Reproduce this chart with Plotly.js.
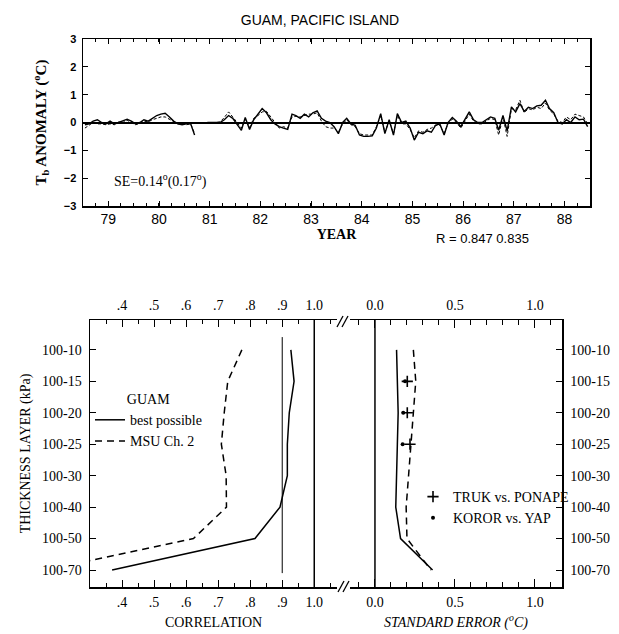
<!DOCTYPE html>
<html><head><meta charset="utf-8">
<script src="https://cdn.plot.ly/plotly-3.0.1.min.js"></script>
<style>html,body{margin:0;padding:0;background:#fff}</style>
</head><body>
<div id="chart" style="width:619px;height:634px"></div>
<script>
// ---------- data: top panel (monthly Tb anomaly, Guam, 1979-1988) ----------
const years = [1979,1980,1981,1982,1983,1984,1985,1986,1987,1988];
const yearLabels = ['79','80','81','82','83','84','85','86','87','88'];
const anomalySolid = [
 -0.08,-0.05,0.05,0.10,0.00,-0.05,0.05,-0.05,0.00,0.05,0.12,0.05,
 -0.05,0.00,0.10,0.05,0.15,0.25,0.30,0.33,0.20,0.05,-0.05,-0.08,
 -0.05,-0.05,-0.45,null,null,0.00,0.00,-0.02,0.00,0.10,0.25,0.15,
 -0.05,-0.28,0.18,-0.25,0.10,0.30,0.50,0.35,0.10,-0.05,-0.15,-0.20,
 -0.25,0.30,0.25,0.15,0.30,0.20,0.35,0.42,0.15,0.05,0.00,-0.15,
 -0.40,0.00,0.15,-0.05,-0.10,-0.45,-0.50,-0.50,-0.48,-0.20,0.32,-0.40,
 0.10,-0.45,0.32,0.00,0.05,-0.20,-0.63,-0.35,-0.40,-0.30,-0.35,-0.10,
 -0.05,-0.45,0.00,0.18,0.05,-0.15,0.10,0.38,0.10,0.00,0.00,0.10,
 0.20,0.15,-0.28,0.25,-0.30,0.56,0.38,0.68,0.40,0.55,0.50,0.60,
 0.62,0.80,0.50,0.35,0.00,-0.05,0.10,0.00,0.20,0.10,0.12,-0.15];
const anomalyDashed = [
 -0.20,-0.10,0.00,-0.05,-0.05,-0.08,-0.05,-0.08,0.02,0.00,0.08,0.00,
 -0.08,-0.03,0.05,0.02,0.10,0.15,0.20,0.20,0.12,0.02,-0.05,-0.05,
 -0.08,-0.05,-0.40,null,null,0.00,-0.02,0.00,0.02,0.18,0.38,0.20,
 0.00,-0.20,0.12,-0.18,0.15,0.25,0.38,0.40,0.20,0.00,-0.20,-0.15,
 -0.20,0.20,0.22,0.20,0.25,0.30,0.30,0.35,0.05,-0.15,-0.20,-0.20,
 -0.35,-0.05,0.10,-0.08,-0.15,-0.40,-0.45,-0.45,-0.45,-0.15,0.25,-0.35,
 0.05,-0.40,0.25,-0.05,-0.05,-0.25,-0.55,-0.30,-0.35,-0.25,-0.20,-0.10,
 -0.10,-0.40,-0.05,0.12,0.00,-0.20,0.05,0.30,0.05,-0.05,-0.05,0.05,
 0.15,0.10,-0.45,0.20,-0.50,0.50,0.45,0.80,0.35,0.50,0.45,0.55,
 0.50,0.70,0.45,0.30,0.05,0.00,0.20,0.10,0.30,0.25,0.20,-0.05];

// ---------- data: bottom panels ----------
const layers = ['100-10','100-15','100-20','100-25','100-30','100-40','100-50','100-70'];
const corrBest = [0.927,0.937,0.922,0.916,0.916,0.893,0.815,0.369];
const corrMSU  = [0.774,0.730,0.719,0.710,0.725,0.726,0.623,0.160];
const seBest   = [0.135,0.140,0.145,0.140,0.135,0.130,0.160,0.360];
const seMSU    = [0.240,0.255,0.240,0.225,0.210,0.195,0.200,0.350];
const stationLayers = ['100-15','100-20','100-25'];
const trukSE  = [0.202,0.202,0.219];
const kororSE = [0.188,0.177,0.173];
const corrTicks = [0.4,0.5,0.6,0.7,0.8,0.9,1.0];
const corrTickText = ['.4','.5','.6','.7','.8','.9','1.0'];
const seTicks = [0,0.5,1.0];
const seTickText = ['0.0','0.5','1.0'];

// month positions (mid-month) derived from the years list
const months = [];
years.forEach(y => { for (let m = 1; m <= 12; m++) months.push(y + '-' + String(m).padStart(2,'0') + '-15'); });
const yearMid = years.map(y => y + '-07-02');

const W = 619, H = 634;
const px = v => v / W, py = v => 1 - v / H;
const SERIF = 'Liberation Serif, Times New Roman, serif';
const SANS = 'Liberation Sans, Arial, sans-serif';
const K = '#000';

const traces = [
 {x: months, y: anomalySolid, xaxis:'x', yaxis:'y', mode:'lines', connectgaps:false,
  line:{color:K, width:1.4}, showlegend:false, hoverinfo:'skip'},
 {x: months, y: anomalyDashed, xaxis:'x', yaxis:'y', mode:'lines', connectgaps:false,
  line:{color:K, width:1, dash:'3px,2px'}, showlegend:false, hoverinfo:'skip'},
 {x: corrBest, y: layers, xaxis:'x2', yaxis:'y2', mode:'lines', name:'best possible',
  line:{color:K, width:1.5}, legend:'legend'},
 {x: corrMSU, y: layers, xaxis:'x4', yaxis:'y2', mode:'lines', name:'MSU Ch. 2',
  line:{color:K, width:1.5, dash:'7px,5px'}, legend:'legend'},
 {x: seBest, y: layers, xaxis:'x3', yaxis:'y3', mode:'lines', showlegend:false,
  line:{color:K, width:1.5}},
 {x: seMSU, y: layers, xaxis:'x5', yaxis:'y3', mode:'lines', showlegend:false,
  line:{color:K, width:1.5, dash:'7px,5px'}},
 {x: trukSE, y: stationLayers, xaxis:'x3', yaxis:'y3', mode:'markers', name:'TRUK vs. PONAPE',
  marker:{symbol:'cross-thin-open', size:8, color:K, line:{color:K, width:1.6}}, legend:'legend2'},
 {x: kororSE, y: stationLayers, xaxis:'x3', yaxis:'y3', mode:'markers', name:'KOROR vs. YAP',
  marker:{symbol:'circle', size:4, color:K}, legend:'legend2'}
];

const frameAxis = {showline:true, linecolor:K, linewidth:1.5, ticks:'inside', tickcolor:K,
  showgrid:false, zeroline:false, fixedrange:true};

const layout = {
  width: W, height: H, margin:{l:0,r:0,t:0,b:0},
  paper_bgcolor:'#fff', plot_bgcolor:'rgba(0,0,0,0)',
  showlegend:true,
  title:{text:'GUAM, PACIFIC ISLAND', font:{family:SANS, size:14, color:K},
         x: px(320), xanchor:'center', y: py(20), yanchor:'middle', xref:'paper', yref:'paper'},
  // top panel
  xaxis: Object.assign({}, frameAxis, {
    domain:[px(83), px(590)], anchor:'y', type:'date',
    range:['1979-01-01','1989-01-01'], mirror:'allticks', ticklen:5,
    tickmode:'array', tickvals: yearMid, ticktext: yearLabels,
    minor:{tickmode:'linear', tick0:'1979-01-01', dtick:'M3', ticklen:3, ticks:'inside', tickcolor:K},
    tickfont:{family:SANS, size:14, color:K},
    title:{text:'YEAR', font:{family:SERIF, size:14, color:K, weight:'bold'}, standoff:2}
  }),
  yaxis: Object.assign({}, frameAxis, {
    domain:[py(206), py(39)], anchor:'x', range:[-3,3], mirror:'allticks', ticklen:5,
    tickvals:[-3,-2,-1,0,1,2,3], ticklabelstandoff:3,
    tickfont:{family:SANS, size:11, color:K, weight:'bold'},
    zeroline:true, zerolinecolor:K, zerolinewidth:2,
    title:{text:'T<sub>b</sub> ANOMALY (<sup>o</sup>C)', font:{family:SERIF, size:15, color:K, weight:'bold'}, standoff:13}
  }),
  // bottom-left: correlation
  xaxis2: Object.assign({}, frameAxis, {
    domain:[px(90), px(337)], anchor:'y2', range:[0.30, 1.071], side:'bottom',
    tickmode:'array', tickvals: corrTicks, ticktext: corrTickText, ticklen:7,
    minor:{tickmode:'linear', tick0:0, dtick:0.05, ticklen:4, ticks:'inside', tickcolor:K},
    tickfont:{family:SERIF, size:14, color:K}, ticklabelstandoff:2,
    title:{text:'CORRELATION', font:{family:SERIF, size:14, color:K}, standoff:8}
  }),
  xaxis4: Object.assign({}, frameAxis, {
    overlaying:'x2', anchor:'y2', side:'top', range:[0.30, 1.071],
    tickmode:'array', tickvals: corrTicks, ticktext: corrTickText, ticklen:7,
    minor:{tickmode:'linear', tick0:0, dtick:0.05, ticklen:4, ticks:'inside', tickcolor:K},
    tickfont:{family:SERIF, size:14, color:K}, ticklabelstandoff:3
  }),
  yaxis2: Object.assign({}, frameAxis, {
    domain:[py(587), py(320)], anchor:'x2', type:'category', categoryarray: layers,
    range:[7.54, -0.95], side:'left', ticklen:6, ticklabelstandoff:4,
    tickfont:{family:SERIF, size:14, color:K},
    title:{text:'THICKNESS LAYER (kPa)', font:{family:SERIF, size:14, color:K}, standoff:8}
  }),
  // bottom-right: standard error
  xaxis3: Object.assign({}, frameAxis, {
    domain:[px(350), px(562)], anchor:'y3', range:[-0.156, 1.169], side:'bottom',
    tickmode:'array', tickvals: seTicks, ticktext: seTickText, ticklen:8,
    minor:{tickmode:'linear', tick0:0, dtick:0.1, ticklen:5, ticks:'inside', tickcolor:K},
    tickfont:{family:SERIF, size:14, color:K}, ticklabelstandoff:2,
    title:{text:'<i>STANDARD ERROR (<sup>o</sup>C)</i>', font:{family:SERIF, size:14, color:K}, standoff:8}
  }),
  xaxis5: Object.assign({}, frameAxis, {
    overlaying:'x3', anchor:'y3', side:'top', range:[-0.156, 1.169],
    tickmode:'array', tickvals: seTicks, ticktext: seTickText, ticklen:8,
    minor:{tickmode:'linear', tick0:0, dtick:0.1, ticklen:5, ticks:'inside', tickcolor:K},
    tickfont:{family:SERIF, size:14, color:K}, ticklabelstandoff:3
  }),
  yaxis3: Object.assign({}, frameAxis, {
    domain:[py(587), py(320)], anchor:'x3', type:'category', categoryarray: layers,
    range:[7.54, -0.95], side:'right', ticklen:6, ticklabelstandoff:4,
    tickfont:{family:SERIF, size:14, color:K}
  }),
  legend:{x:px(90), y:py(386), xanchor:'left', yanchor:'top', bgcolor:'rgba(0,0,0,0)',
    title:{text:'GUAM', side:'top center', font:{family:SERIF, size:14, color:K}},
    font:{family:SERIF, size:14, color:K}, itemwidth:30, tracegroupgap:0},
  legend2:{x:px(413), y:py(481), xanchor:'left', yanchor:'top', bgcolor:'rgba(0,0,0,0)',
    font:{family:SERIF, size:14, color:K}, itemwidth:30, tracegroupgap:0},
  shapes:[
    {type:'line', xref:'x2', yref:'y2 domain', x0:1, x1:1, y0:0, y1:1, line:{color:K, width:1.5}},
    {type:'line', xref:'x2', yref:'y2 domain', x0:0.9, x1:0.9, y0:0.052, y1:0.936, line:{color:K, width:1}},
    {type:'line', xref:'x3', yref:'y3 domain', x0:0, x1:0, y0:0, y1:1, line:{color:K, width:1.5}},
    // axis-break marks
    {type:'line', xref:'paper', yref:'paper', x0:px(337), y0:py(327), x1:px(343), y1:py(316), line:{color:K, width:1.3}},
    {type:'line', xref:'paper', yref:'paper', x0:px(342), y0:py(327), x1:px(348), y1:py(316), line:{color:K, width:1.3}},
    {type:'line', xref:'paper', yref:'paper', x0:px(338), y0:py(592), x1:px(344), y1:py(581), line:{color:K, width:1.3}},
    {type:'line', xref:'paper', yref:'paper', x0:px(343), y0:py(592), x1:px(349), y1:py(581), line:{color:K, width:1.3}}
  ],
  annotations:[
    {text:'SE=0.14<sup>o</sup>(0.17<sup>o</sup>)', xref:'paper', yref:'paper', x:px(112), y:py(180),
     xanchor:'left', yanchor:'middle', showarrow:false, font:{family:SERIF, size:14, color:K}},
    {text:'R = 0.847 0.835', xref:'paper', yref:'paper', x:px(482), y:py(238),
     xanchor:'center', yanchor:'middle', showarrow:false, font:{family:SANS, size:13, color:K}}
  ]
};

Plotly.newPlot('chart', traces, layout, {staticPlot:true, displayModeBar:false});
</script>
</body></html>
